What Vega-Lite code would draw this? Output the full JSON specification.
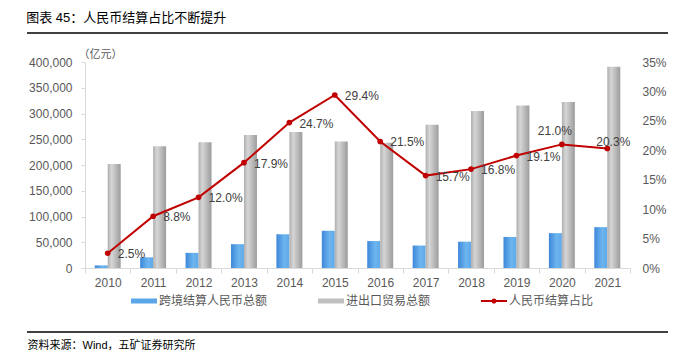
{
  "$schema": "https://vega.github.io/schema/vega-lite/v6.json",
  "width": 545,
  "height": 206,
  "autosize": {"type": "none"},
  "padding": {"left": 85, "top": 62, "right": 54, "bottom": 85},
  "background": "#ffffff",
  "title": {
    "text": "图表 45：人民币结算占比不断提升",
    "anchor": "start",
    "frame": "bounds",
    "orient": "top",
    "baseline": "bottom",
    "offset": 8,
    "dy": 14,
    "font": "Liberation Sans, Noto Sans CJK SC",
    "fontSize": 13,
    "fontWeight": "normal",
    "color": "#000000"
  },
  "datasets": {
    "bars": [
      {"year": "2010", "series": "跨境结算人民币总额", "value": 5063},
      {"year": "2011", "series": "跨境结算人民币总额", "value": 20800},
      {"year": "2012", "series": "跨境结算人民币总额", "value": 29400},
      {"year": "2013", "series": "跨境结算人民币总额", "value": 46300},
      {"year": "2014", "series": "跨境结算人民币总额", "value": 65500},
      {"year": "2015", "series": "跨境结算人民币总额", "value": 72300},
      {"year": "2016", "series": "跨境结算人民币总额", "value": 52300},
      {"year": "2017", "series": "跨境结算人民币总额", "value": 43600},
      {"year": "2018", "series": "跨境结算人民币总额", "value": 51100},
      {"year": "2019", "series": "跨境结算人民币总额", "value": 60300},
      {"year": "2020", "series": "跨境结算人民币总额", "value": 67700},
      {"year": "2021", "series": "跨境结算人民币总额", "value": 79400},
      {"year": "2010", "series": "进出口贸易总额", "value": 201722},
      {"year": "2011", "series": "进出口贸易总额", "value": 236402},
      {"year": "2012", "series": "进出口贸易总额", "value": 244160},
      {"year": "2013", "series": "进出口贸易总额", "value": 258169},
      {"year": "2014", "series": "进出口贸易总额", "value": 264242},
      {"year": "2015", "series": "进出口贸易总额", "value": 245503},
      {"year": "2016", "series": "进出口贸易总额", "value": 243386},
      {"year": "2017", "series": "进出口贸易总额", "value": 278099},
      {"year": "2018", "series": "进出口贸易总额", "value": 305008},
      {"year": "2019", "series": "进出口贸易总额", "value": 315627},
      {"year": "2020", "series": "进出口贸易总额", "value": 322215},
      {"year": "2021", "series": "进出口贸易总额", "value": 391009}
    ],
    "ratio": [
      {"year": "2010", "ratio": 0.025},
      {"year": "2011", "ratio": 0.088},
      {"year": "2012", "ratio": 0.120},
      {"year": "2013", "ratio": 0.179},
      {"year": "2014", "ratio": 0.247},
      {"year": "2015", "ratio": 0.294},
      {"year": "2016", "ratio": 0.215},
      {"year": "2017", "ratio": 0.157},
      {"year": "2018", "ratio": 0.168},
      {"year": "2019", "ratio": 0.191},
      {"year": "2020", "ratio": 0.210},
      {"year": "2021", "ratio": 0.203}
    ],
    "blank": [{}]
  },
  "layer": [
    {
      "data": {"name": "bars"},
      "mark": {"type": "bar"},
      "encoding": {
        "x": {
          "field": "year", "type": "nominal", "sort": null,
          "scale": {"paddingInner": 0, "paddingOuter": 0},
          "axis": {
            "labelAngle": 0, "tickBand": "extent", "tickSize": 5, "labelPadding": 4,
            "domainColor": "#d9d9d9", "tickColor": "#d9d9d9",
            "title": "资料来源：Wind，五矿证券研究所",
            "titleX": -58, "titleY": 77, "titleAlign": "left", "titleBaseline": "middle",
            "titleAnchor": "start",
            "titleFont": "Liberation Sans, Noto Sans CJK SC", "titleFontSize": 11,
            "titleFontWeight": "normal", "titleColor": "#000000"
          }
        },
        "xOffset": {
          "field": "series", "type": "nominal",
          "sort": ["跨境结算人民币总额", "进出口贸易总额"],
          "scale": {"paddingInner": 0, "paddingOuter": 0.75}
        },
        "y": {
          "field": "value", "type": "quantitative",
          "scale": {"domain": [0, 400000]},
          "axis": {
            "orient": "left",
            "values": [0, 50000, 100000, 150000, 200000, 250000, 300000, 350000, 400000],
            "format": ",.0f", "tickSize": 4, "labelPadding": 9,
            "domainColor": "#d9d9d9", "tickColor": "#d9d9d9",
            "title": "（亿元）", "titleAngle": 0, "titleX": -7, "titleY": -8,
            "titleAlign": "left", "titleBaseline": "middle",
            "titleFont": "Liberation Sans, Noto Sans CJK SC", "titleFontSize": 11,
            "titleFontWeight": "normal", "titleColor": "#595959"
          }
        },
        "fill": {
          "condition": {
            "test": "datum.series === '跨境结算人民币总额'",
            "value": {"gradient": "linear", "x1": 0, "x2": 1, "y1": 0, "y2": 0,
              "stops": [{"offset": 0, "color": "#3e87da"}, {"offset": 0.6, "color": "#6cb5ee"}, {"offset": 1, "color": "#5fa9ea"}]}
          },
          "value": {"gradient": "linear", "x1": 0, "x2": 1, "y1": 0, "y2": 0,
            "stops": [{"offset": 0, "color": "#aeaeae"}, {"offset": 0.3, "color": "#d6d6d6"}, {"offset": 1, "color": "#9c9c9c"}]}
        }
      }
    },
    {
      "data": {"name": "ratio"},
      "encoding": {
        "x": {"field": "year", "type": "nominal", "sort": null},
        "y": {
          "field": "ratio", "type": "quantitative",
          "scale": {"domain": [0, 0.35]},
          "axis": {
            "orient": "right",
            "values": [0, 0.05, 0.1, 0.15, 0.2, 0.25, 0.3, 0.35],
            "format": ".0%", "domain": false, "ticks": false, "tickSize": 0,
            "labelPadding": 12, "title": null
          }
        }
      },
      "layer": [
        {
          "mark": {"type": "line", "strokeWidth": 2, "point": {"filled": true, "size": 32}},
          "encoding": {
            "color": {
              "datum": "人民币结算占比", "type": "nominal",
              "scale": {
                "domain": ["跨境结算人民币总额", "进出口贸易总额", "人民币结算占比"],
                "range": ["#5aa6e8", "#c0c0c0", "#c00000"]
              },
              "legend": {
                "orient": "none", "direction": "horizontal", "title": null,
                "legendX": 49, "legendY": 229,
                "symbolType": "M-1.3,-0.25H1.3V0.25H-1.3Z",
                "encode": {
                  "symbols": {
                    "update": {
                      "shape": {"signal": "datum.label === '人民币结算占比' ? 'M-1.3,-0.1H1.3V0.1H-1.3Z M0.26,0A0.26,0.26,0,1,1,-0.26,0A0.26,0.26,0,1,1,0.26,0Z' : 'M-1.3,-0.25H1.3V0.25H-1.3Z'"},
                      "fill": {"scale": "color", "field": "value"},
                      "stroke": {"value": "transparent"},
                      "strokeWidth": {"value": 0},
                      "opacity": {"value": 1}
                    }
                  }
                }
              }
            }
          }
        },
        {
          "transform": [{"filter": "toNumber(datum.year) < 2020"}],
          "mark": {"type": "text", "align": "left", "baseline": "middle", "dx": 10, "dy": 1,
            "font": "Liberation Sans", "fontSize": 12, "color": "#404040"},
          "encoding": {"text": {"field": "ratio", "type": "quantitative", "format": ".1%"}}
        },
        {
          "transform": [{"filter": "datum.year === '2020'"}],
          "mark": {"type": "text", "align": "center", "baseline": "middle", "dx": -7, "dy": -13,
            "font": "Liberation Sans", "fontSize": 12, "color": "#404040"},
          "encoding": {"text": {"field": "ratio", "type": "quantitative", "format": ".1%"}}
        },
        {
          "transform": [{"filter": "datum.year === '2021'"}],
          "mark": {"type": "text", "align": "center", "baseline": "middle", "dx": 6, "dy": -7,
            "font": "Liberation Sans", "fontSize": 12, "color": "#404040"},
          "encoding": {"text": {"field": "ratio", "type": "quantitative", "format": ".1%"}}
        }
      ]
    },
    {
      "data": {"name": "blank"},
      "mark": {"type": "rule", "color": "#000000", "strokeWidth": 1.5},
      "encoding": {"x": {"value": -58}, "x2": {"value": 583}, "y": {"value": -29}}
    },
    {
      "data": {"name": "blank"},
      "mark": {"type": "rule", "color": "#000000", "strokeWidth": 1.5},
      "encoding": {"x": {"value": -58}, "x2": {"value": 583}, "y": {"value": 270}}
    }
  ],
  "resolve": {"scale": {"y": "independent"}},
  "config": {
    "view": {"stroke": null},
    "axis": {
      "labelFont": "Liberation Sans", "labelFontSize": 12, "labelColor": "#595959",
      "grid": false
    },
    "legend": {
      "labelFont": "Liberation Sans, Noto Sans CJK SC", "labelFontSize": 12, "labelColor": "#595959",
      "symbolSize": 400, "labelOffset": 5, "columnPadding": 50, "padding": 0,
      "labelLimit": 300,
      "symbolStrokeWidth": 0,
      "symbolOpacity": 1
    }
  }
}
